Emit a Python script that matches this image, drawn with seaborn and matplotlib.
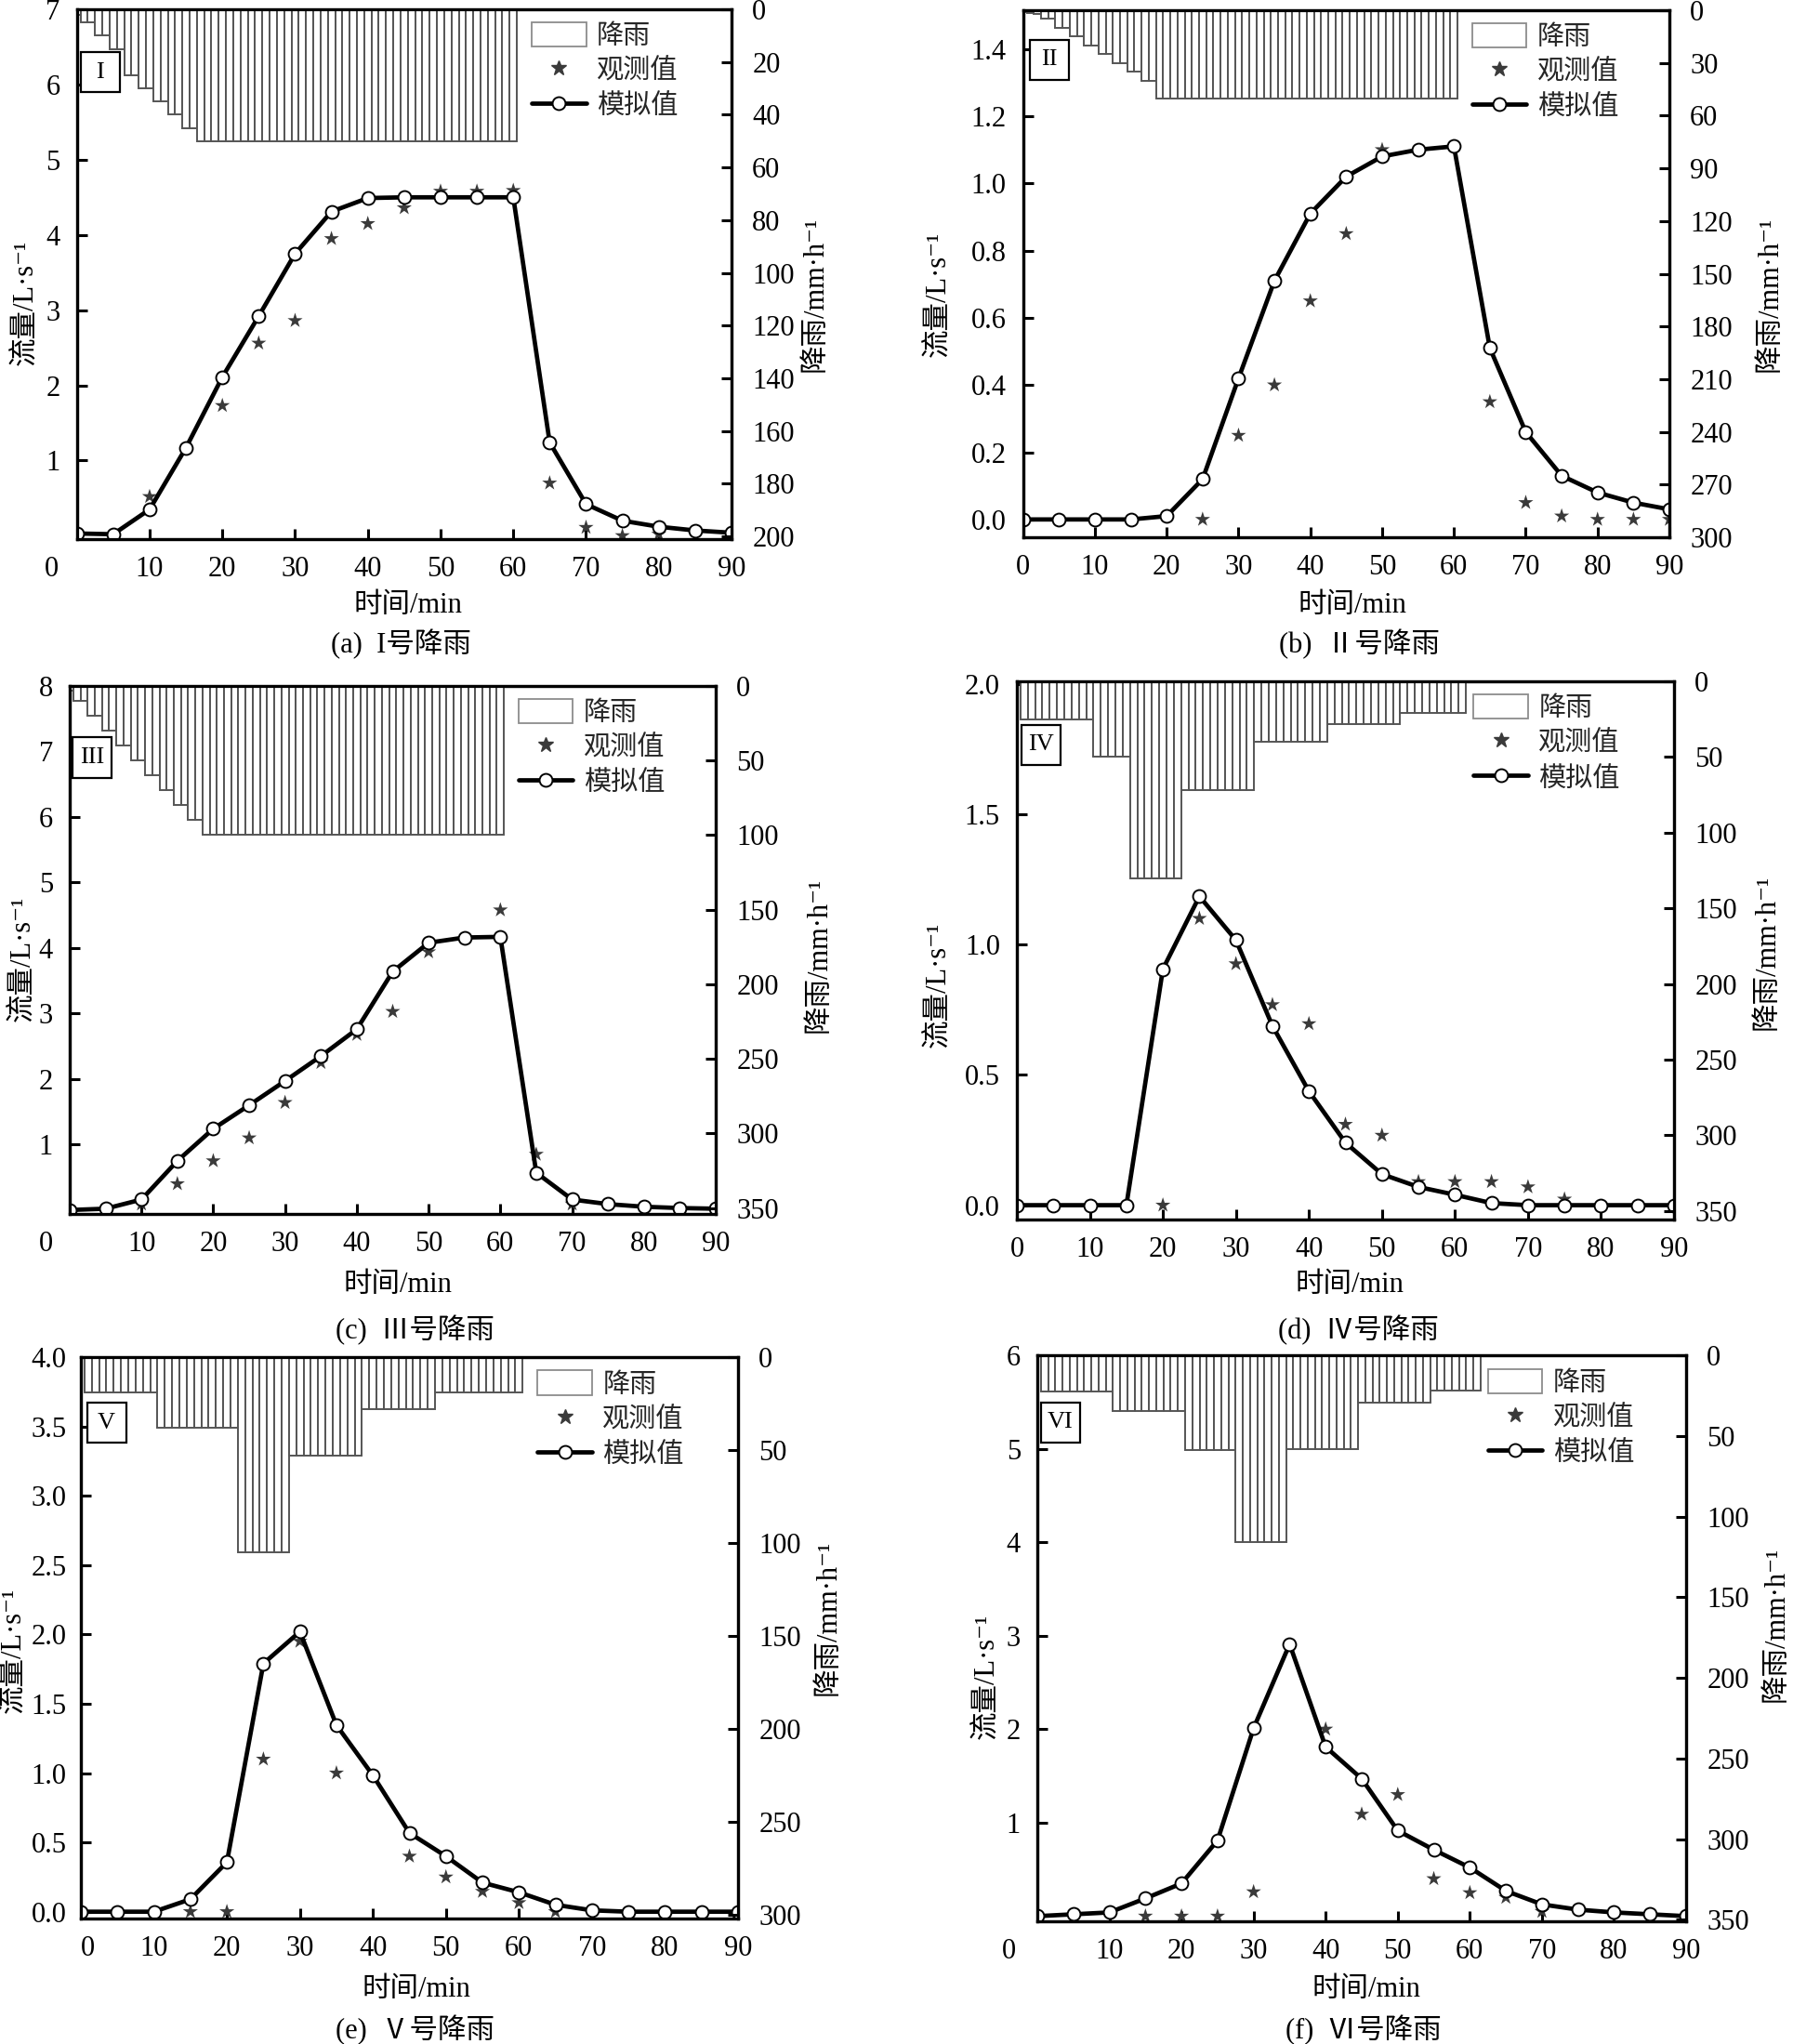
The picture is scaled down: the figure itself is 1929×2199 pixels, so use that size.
import matplotlib
matplotlib.use("Agg")
import matplotlib.pyplot as plt
import seaborn as sns
import pandas as pd
from matplotlib.patches import Patch, Rectangle
from matplotlib.lines import Line2D

sns.set_theme(style="ticks")
plt.rcParams['font.family'] = ['Liberation Serif', 'Noto Sans CJK SC', 'DejaVu Sans']
plt.rcParams['axes.unicode_minus'] = False

# ---------------- data ----------------
time = [0, 5, 10, 15, 20, 25, 30, 35, 40, 45, 50, 55, 60, 65, 70, 75, 80, 85, 90]

# (a) rain I
a_sim = [0.03, 0.02, 0.35, 1.17, 2.11, 2.92, 3.75, 4.31, 4.49, 4.50, 4.50, 4.50, 4.50, 1.24, 0.42, 0.20, 0.12, 0.07, 0.04]
a_obs_t = [10, 20, 25, 30, 35, 40, 45, 50, 55, 60, 65, 70, 75, 80]
a_obs = [0.52, 1.73, 2.56, 2.86, 3.95, 4.15, 4.36, 4.58, 4.58, 4.59, 0.70, 0.11, 0.0, 0.02]
a_rain_start = [0, 1, 3, 5, 7, 9, 11, 13, 15, 17]
a_rain_stop = [0, 2, 4, 6, 8, 10, 12, 14, 16, 60]
a_rain = [2, 5, 10, 15, 25, 30, 35, 40, 45, 50]

# (b) rain II
b_sim = [0.0, 0.0, 0.0, 0.0, 0.01, 0.12, 0.42, 0.71, 0.91, 1.02, 1.08, 1.10, 1.11, 0.51, 0.26, 0.13, 0.08, 0.05, 0.03]
b_obs_t = [25, 30, 35, 40, 45, 50, 65, 70, 75, 80, 85, 90]
b_obs = [0.0, 0.25, 0.40, 0.65, 0.85, 1.10, 0.35, 0.05, 0.01, 0.0, 0.0, 0.0]
b_rain_start = [0, 1, 2, 3, 5, 7, 9, 11, 13, 15, 17, 19]
b_rain_stop = [0, 1, 2, 4, 6, 8, 10, 12, 14, 16, 18, 60]
b_rain = [1, 1.5, 2, 5, 10, 15, 20, 25, 30, 35, 40, 50]

# (c) rain III
c_sim = [0.0, 0.02, 0.16, 0.75, 1.24, 1.60, 1.97, 2.35, 2.76, 3.64, 4.08, 4.16, 4.17, 0.57, 0.16, 0.09, 0.05, 0.03, 0.02]
c_obs_t = [10, 15, 20, 25, 30, 35, 40, 45, 50, 60, 65, 70]
c_obs = [0.09, 0.40, 0.75, 1.10, 1.64, 2.25, 2.68, 3.03, 3.94, 4.58, 0.85, 0.09]
c_rain_start = [0, 1, 3, 5, 7, 9, 11, 13, 15, 17, 19]
c_rain_stop = [0, 2, 4, 6, 8, 10, 12, 14, 16, 18, 60]
c_rain = [3, 10, 20, 30, 40, 50, 60, 70, 80, 90, 100]

# (d) rain IV
d_sim = [0.0, 0.0, 0.0, 0.0, 0.906, 1.185, 1.017, 0.688, 0.437, 0.240, 0.119, 0.070, 0.040, 0.008, 0.0, 0.0, 0.0, 0.0, 0.0]
d_obs_t = [20, 25, 30, 35, 40, 45, 50, 55, 60, 65, 70, 75]
d_obs = [0.0, 1.10, 0.926, 0.769, 0.696, 0.31, 0.268, 0.09, 0.09, 0.09, 0.07, 0.023]
d_rain_start = [1, 11, 16, 23, 33, 43, 53]
d_rain_stop = [10, 15, 22, 32, 42, 52, 61]
d_rain = [25, 50, 130, 72, 40, 28, 21]

# (e) rain V
e_sim = [0.0, 0.0, 0.0, 0.09, 0.357, 1.79, 2.02, 1.346, 0.983, 0.568, 0.40, 0.21, 0.14, 0.05, 0.01, 0.0, 0.0, 0.0, 0.0]
e_obs_t = [15, 20, 25, 30, 35, 45, 50, 55, 60, 65]
e_obs = [0.0, 0.0, 1.10, 1.95, 1.0, 0.40, 0.25, 0.146, 0.065, 0.0]
e_rain_start = [1, 11, 22, 29, 39, 49]
e_rain_stop = [10, 21, 28, 38, 48, 60]
e_rain = [19, 38, 105, 53, 28, 19]

# (f) rain VI
f_sim = [0.0, 0.02, 0.04, 0.19, 0.35, 0.81, 2.01, 2.91, 1.81, 1.47, 0.915, 0.71, 0.52, 0.27, 0.126, 0.07, 0.04, 0.02, 0.0]
f_obs_t = [15, 20, 25, 30, 40, 45, 50, 55, 60, 65, 70]
f_obs = [0.0, 0.0, 0.0, 0.26, 2.0, 1.09, 1.30, 0.40, 0.25, 0.20, 0.05]
f_rain_start = [1, 11, 21, 28, 35, 45, 55]
f_rain_stop = [10, 20, 27, 34, 44, 54, 61]
f_rain = [22.5, 34.5, 59, 116, 58, 29.5, 22]

x_ticks = [0, 10, 20, 30, 40, 50, 60, 70, 80, 90]
legend_labels = ['降雨', '观测值', '模拟值']
panel_tags = ['I', 'II', 'III', 'IV', 'V', 'VI']
subtitles = ['(a)  I号降雨', '(b)  Ⅱ号降雨', '(c)  Ⅲ号降雨', '(d)  Ⅳ号降雨', '(e)  Ⅴ号降雨', '(f)  Ⅵ号降雨']
flow_label = '流量/L·s⁻¹'
rain_label = '降雨/mm·h⁻¹'
time_label = '时间/min'
left_ticks = [
    [1, 2, 3, 4, 5, 6, 7],
    [0.0, 0.2, 0.4, 0.6, 0.8, 1.0, 1.2, 1.4],
    [1, 2, 3, 4, 5, 6, 7, 8],
    [0.0, 0.5, 1.0, 1.5, 2.0],
    [0.0, 0.5, 1.0, 1.5, 2.0, 2.5, 3.0, 3.5, 4.0],
    [1, 2, 3, 4, 5, 6],
]
left_fmt = ['{:.0f}', '{:.1f}', '{:.0f}', '{:.1f}', '{:.1f}', '{:.0f}']
right_ticks = [
    [0, 20, 40, 60, 80, 100, 120, 140, 160, 180, 200],
    [0, 30, 60, 90, 120, 150, 180, 210, 240, 270, 300],
    [0, 50, 100, 150, 200, 250, 300, 350],
    [0, 50, 100, 150, 200, 250, 300, 350],
    [0, 50, 100, 150, 200, 250, 300],
    [0, 50, 100, 150, 200, 250, 300, 350],
]

panels = [
    (a_sim, a_obs_t, a_obs, a_rain_start, a_rain_stop, a_rain),
    (b_sim, b_obs_t, b_obs, b_rain_start, b_rain_stop, b_rain),
    (c_sim, c_obs_t, c_obs, c_rain_start, c_rain_stop, c_rain),
    (d_sim, d_obs_t, d_obs, d_rain_start, d_rain_stop, d_rain),
    (e_sim, e_obs_t, e_obs, e_rain_start, e_rain_stop, e_rain),
    (f_sim, f_obs_t, f_obs, f_rain_start, f_rain_stop, f_rain),
]

# ---------------- layout (pixels of the 1929x2199 canvas) ----------------
W, H = 1929, 2199
axes_px = [  # left, right, top, bottom
    (82.7, 787, 10, 580),
    (1100.7, 1796, 11, 578),
    (75, 770, 738, 1306),
    (1094, 1801, 733, 1312),
    (87, 794, 1460, 2064),
    (1116, 1814, 1458, 2067),
]
ylims = [(-0.045, 7.0), (-0.053, 1.515), (-0.06, 8.0), (-0.055, 2.01), (-0.049, 4.0), (-0.055, 6.0)]
rlims = [(201, 0), (300, 0), (354, 0), (355.7, 0), (302, 0), (351, 0)]
box_px = [(107.5, 77.8), (1128.7, 64.5), (99.2, 815), (1119.5, 801.3), (114.5, 1530.8), (1140.5, 1530.5)]
zero_shift = [-27, 0, -26, 0, 7, -31]
left_pad = [13, 13, 13, 13, 11, 13]
ylab_xy = [(-0.078, 0.446), (-0.13, 0.462), (-0.072, 0.484), (-0.119, 0.436), (-0.102, 0.478), (-0.077, 0.432)]
rlab_xy = [(1.128, 0.463), (1.156, 0.462), (1.16, 0.49), (1.141, 0.497), (1.137, 0.536), (1.139, 0.525)]
xlab_xy = [(0.506, -0.125), (0.51, -0.129), (0.508, -0.134), (0.506, -0.121), (0.51, -0.126), (0.507, -0.12)]
sub_xy = [(0.495, -0.198), (0.52, -0.203), (0.534, -0.22), (0.52, -0.206), (0.508, -0.199), (0.502, -0.192)]

FS = 22
XPAD = 13
fig = plt.figure(figsize=(W / 100, H / 100), dpi=100)

for i, (sim, obs_t, obs, rs, re, rv) in enumerate(panels):
    l, r, t, b = axes_px[i]
    ax = fig.add_axes([l / W, 1 - b / H, (r - l) / W, (b - t) / H])
    ax2 = ax.twinx()

    # rain bars (one bar per minute)
    minutes, depth = [], []
    for s0, s1, v in zip(rs, re, rv):
        for m in range(s0, s1 + 1):
            minutes.append(m)
            depth.append(v)
    ax2.bar(minutes, depth, width=1.0, color='white', edgecolor='#555555', linewidth=1.4, zorder=1)
    ax2.set_ylim(*rlims[i])
    ax2.set_yticks(right_ticks[i])
    ax2.set_yticklabels([str(v) for v in right_ticks[i]])

    df_sim = pd.DataFrame({'t': time, 'q': sim})
    df_obs = pd.DataFrame({'t': obs_t, 'q': obs})
    sns.scatterplot(data=df_obs, x='t', y='q', ax=ax, marker='*', s=150, color='#3a3a3a',
                    edgecolor='none', linewidth=0, zorder=2.5)
    sns.lineplot(data=df_sim, x='t', y='q', ax=ax, color='black', linewidth=3.4, marker='o',
                 markersize=10, markerfacecolor='white', markeredgecolor='black',
                 markeredgewidth=1.4, zorder=3)

    ax.set_xlim(0, 90)
    ax.set_ylim(*ylims[i])
    ax.set_xticks(x_ticks)
    xl = [str(v) for v in x_ticks]
    if zero_shift[i] != 0:
        xl[0] = ''
    ax.set_xticklabels(xl)
    ax.set_yticks(left_ticks[i])
    ax.set_yticklabels([left_fmt[i].format(v) for v in left_ticks[i]])

    ax.tick_params(axis='x', direction='in', length=8, width=2.2, labelsize=FS, pad=XPAD,
                   bottom=True, top=False, colors='black')
    ax.tick_params(axis='y', direction='in', length=8, width=2.2, labelsize=FS, pad=left_pad[i],
                   left=True, right=False, colors='black')
    ax2.tick_params(axis='y', direction='in', length=8, width=2.2, labelsize=FS, pad=16,
                    right=True, left=False, colors='black')
    for a_ in (ax, ax2):
        for sp in a_.spines.values():
            sp.set_linewidth(2.3)
            sp.set_color('black')

    if zero_shift[i] != 0:
        ax.annotate('0', xy=(0, 0), xycoords='axes fraction',
                    xytext=(zero_shift[i] * 0.72, -XPAD), textcoords='offset points',
                    ha='center', va='top', fontsize=FS, color='black')

    ax.set_xlabel(time_label, fontsize=FS, color='black')
    ax.xaxis.set_label_coords(*xlab_xy[i])
    ax.xaxis.label.set_va('center')
    ax.set_ylabel(flow_label, fontsize=FS, color='black')
    ax.yaxis.set_label_coords(*ylab_xy[i])
    ax.yaxis.label.set_va('center')
    ax2.set_ylabel(rain_label, fontsize=FS, color='black', rotation=90)
    ax2.yaxis.set_label_coords(*rlab_xy[i])
    ax2.yaxis.label.set_va('center')

    ax.text(sub_xy[i][0], sub_xy[i][1], subtitles[i], transform=ax.transAxes,
            ha='center', va='center', fontsize=FS, color='black')

    # boxed tag
    cx, cy = box_px[i]
    bw, bh = 42, 43
    fig.add_artist(Rectangle(((cx - bw / 2) / W, 1 - (cy + bh / 2) / H), bw / W, bh / H,
                             transform=fig.transFigure, facecolor='white', edgecolor='black',
                             linewidth=1.6, zorder=20))
    fig.text(cx / W, 1 - cy / H, panel_tags[i], ha='center', va='center', fontsize=19,
             color='black', zorder=21)

    handles = [
        Patch(facecolor='white', edgecolor='#8c8c8c', linewidth=1.3),
        Line2D([], [], marker='*', linestyle='none', color='#3a3a3a', markersize=12),
        Line2D([], [], color='black', linewidth=3.4, marker='o', markersize=10,
               markerfacecolor='white', markeredgecolor='black', markeredgewidth=1.4),
    ]
    ax2.legend(handles, legend_labels, loc='upper left', bbox_to_anchor=(0.695, 0.976),
               frameon=False, fontsize=21, handlelength=2.0, handleheight=1.0,
               handletextpad=0.4, labelspacing=0.3, borderaxespad=0, borderpad=0)

fig.savefig('out.png', dpi=100, facecolor='white')
